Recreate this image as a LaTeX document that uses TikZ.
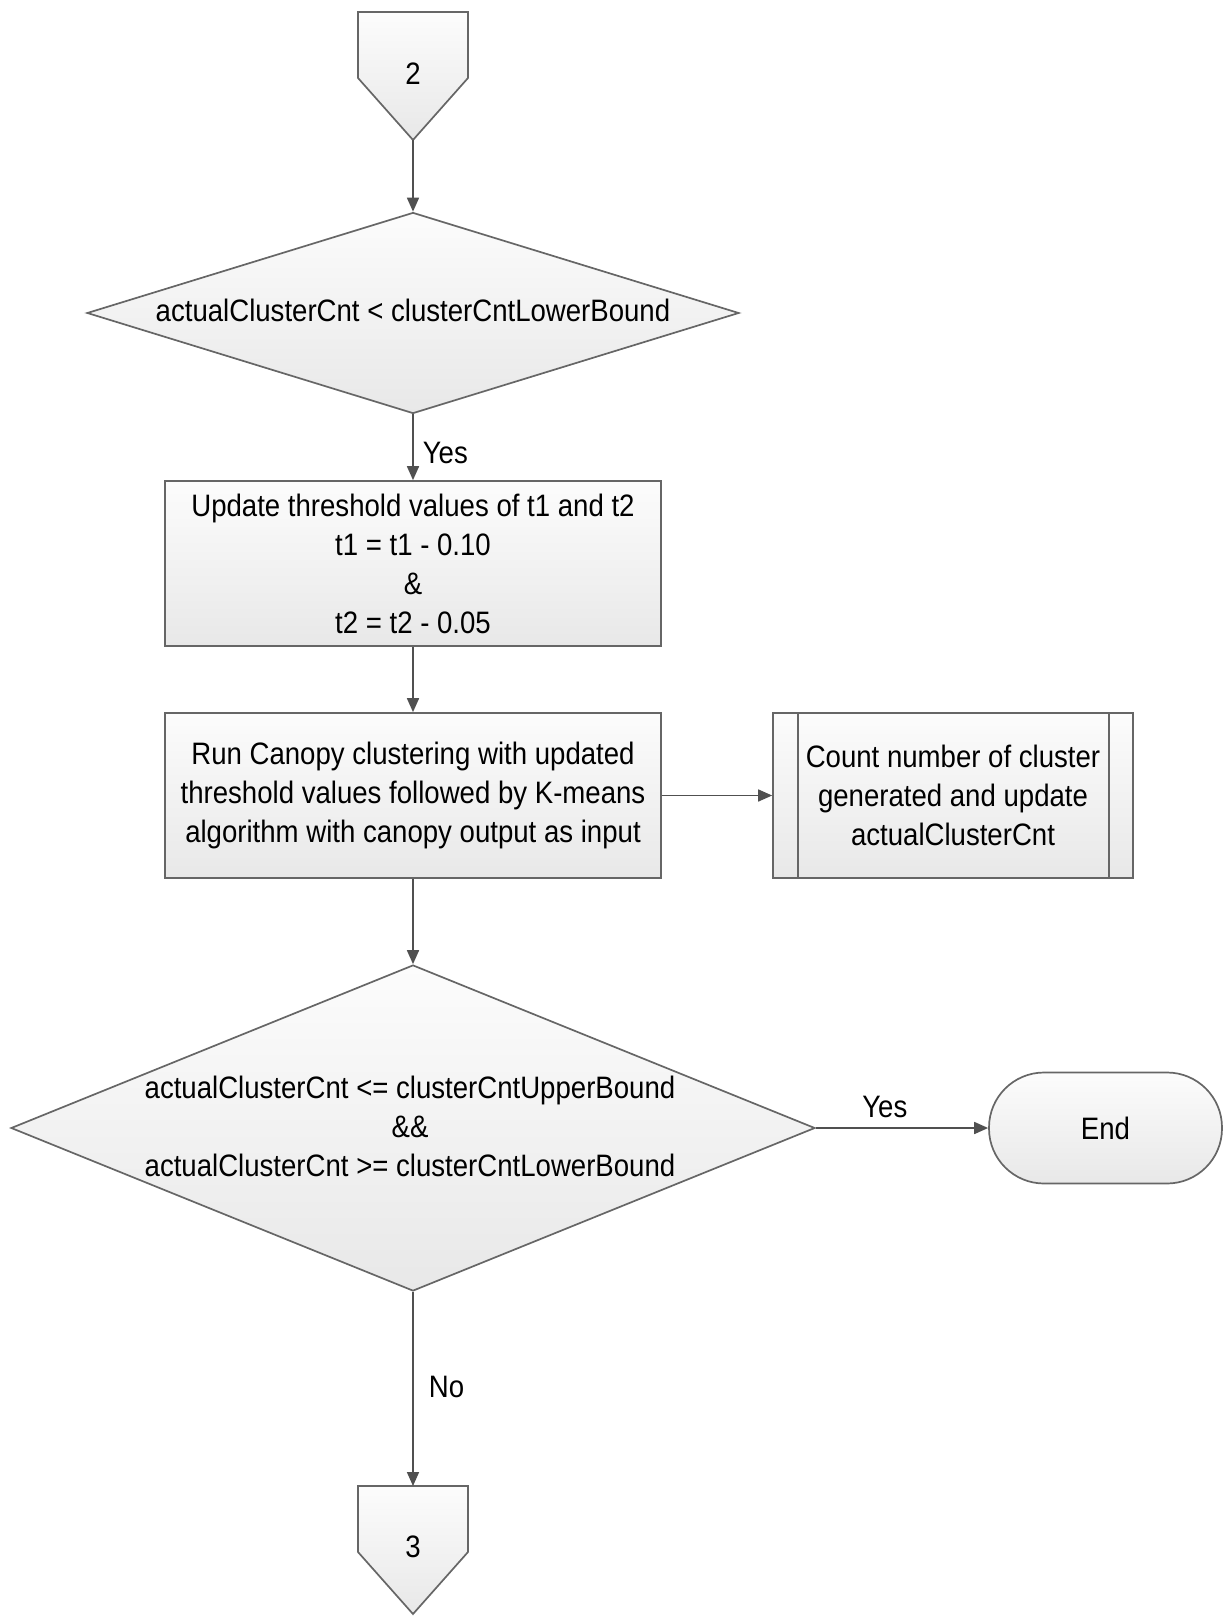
\documentclass[tikz,border=0pt]{standalone}
\usepackage{fontspec}
\setmainfont{Liberation Sans}[FakeStretch=0.89]
\usetikzlibrary{shapes.geometric,arrows.meta}
\definecolor{edgegray}{HTML}{666666}
\definecolor{linegray}{HTML}{505050}
\definecolor{fillTop}{HTML}{FCFCFC}
\definecolor{fillBot}{HTML}{E8E8E8}
\tikzset{
  lbl/.style={font=\fontsize{31}{39}\selectfont, text=black, inner sep=0pt, align=center},
  shp/.style={draw=edgegray, line width=1.7pt, top color=fillTop, bottom color=fillBot},
  procbox/.style={shp, rectangle, lbl, minimum width=496pt, minimum height=165pt},
  decision/.style={shp, diamond, inner sep=0pt},
  flow/.style={draw=linegray, line width=1.7pt, -{Triangle[length=14pt,width=12pt]}},
}
\begin{document}
\begin{tikzpicture}[x=1pt,y=-1pt]
\useasboundingbox (0,0) rectangle (1224,1616);

% off-page connector 2
\draw[shp] (358,12) -- (468,12) -- (468,78) -- (413,140) -- (358,78) -- cycle;
\coordinate (c2tip) at (413,140);
\node[lbl] (c2) at (413,74) {2};

% first decision
\node[decision, minimum width=652pt, minimum height=201pt] (d1) at (413,313) {};
\node[lbl] (d1t) at (413,310) {actualClusterCnt < clusterCntLowerBound};

% threshold update
\node[procbox] (box1) at (413,563.5) {Update threshold values of t1 and t2\\t1 = t1 - 0.10\\\&\\t2 = t2 - 0.05};

% clustering run
\node[procbox] (box2) at (413,795.5) {Run Canopy clustering with updated\\threshold values followed by K-means\\algorithm with canopy output as input};

% predefined process
\node[shp, rectangle, lbl, minimum width=360pt, minimum height=165pt] (pp) at (953,795.5) {Count number of cluster\\generated and update\\actualClusterCnt};
\draw[edgegray, line width=1.7pt] ([xshift=26pt]pp.north west) -- ([xshift=26pt]pp.south west);
\draw[edgegray, line width=1.7pt] ([xshift=-25pt]pp.north east) -- ([xshift=-25pt]pp.south east);

% second decision
\node[decision, minimum width=804pt, minimum height=326pt] (d2) at (413,1128) {};
\node[lbl] (d2t) at (410,1126) {actualClusterCnt <= clusterCntUpperBound\\\&\&\\actualClusterCnt >= clusterCntLowerBound};

% terminator
\node[shp, rectangle, rounded corners=55pt, lbl, minimum width=233pt, minimum height=111pt] (end) at (1105.5,1128) {End};

% off-page connector 3
\draw[shp] (358,1486) -- (468,1486) -- (468,1552) -- (413,1614) -- (358,1552) -- cycle;
\coordinate (c3top) at (413,1486);
\node[lbl] (c3) at (413,1547) {3};

% connectors
\draw[flow] (c2tip) -- (d1.north);
\draw[flow] (d1.south) -- node[lbl, right=9pt, pos=0.58] {Yes} (box1.north);
\draw[flow] (box1.south) -- (box2.north);
\draw[flow] (box2.east) -- (pp.west);
\draw[flow] (box2.south) -- (d2.north);
\draw[flow] (d2.east) -- node[lbl, above=9pt, pos=0.4] {Yes} (end.west);
\draw[flow] (d2.south) -- node[lbl, right=15pt, pos=0.49] {No} (c3top);
\end{tikzpicture}
\end{document}
